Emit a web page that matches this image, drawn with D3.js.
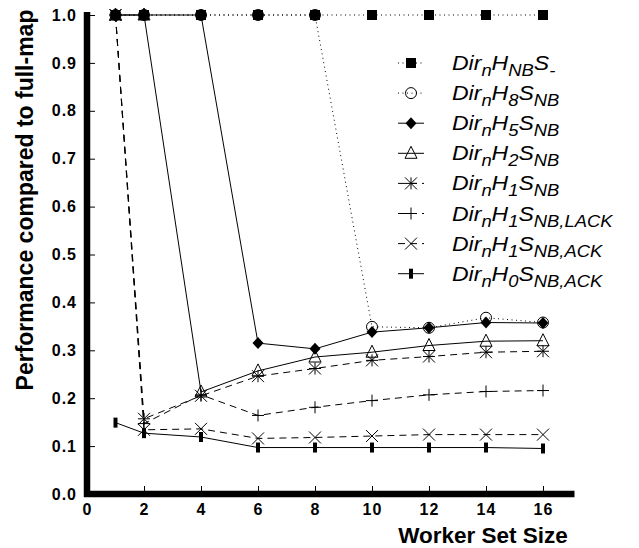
<!DOCTYPE html>
<html>
<head>
<meta charset="utf-8">
<script src="https://cdn.jsdelivr.net/npm/d3@7"></script>
<style>
  body { margin: 0; background: #fff; }
  svg { display: block; font-family: 'Liberation Sans', Arial, sans-serif; }
  .tituloeixo { font-weight: bold; font-size: 23px; fill: #000; }
  .linha { fill: none; stroke: #000; stroke-width: 1px; }
  .legenda text { font-style: italic; font-size: 20px; fill: #000; }
</style>
</head>
<body>
<svg id="grafico"></svg>
<script>
//Dados
var tamanhos = [1, 2, 4, 6, 8, 10, 12, 14, 16];

var hNB    = [1, 1, 1, 1, 1, 1, 1, 1, 1];
var h8     = [1, 1, 1, 1, 1, 0.349, 0.347, 0.368, 0.358];
var h5     = [1, 1, 1, 0.315, 0.303, 0.338, 0.347, 0.358, 0.357];
var h2     = [1, 1, 0.213, 0.257, 0.286, 0.296, 0.310, 0.319, 0.320];
var h1     = [1, 0.157, 0.205, 0.246, 0.262, 0.279, 0.287, 0.296, 0.298];
var h1Lack = [1, 0.147, 0.207, 0.164, 0.181, 0.195, 0.207, 0.214, 0.216];
var h1Ack  = [1, 0.134, 0.136, 0.116, 0.118, 0.121, 0.124, 0.124, 0.124];
var h0Ack  = [0.149, 0.127, 0.119, 0.097, 0.097, 0.097, 0.097, 0.097, 0.095];

var ticksX = [0, 2, 4, 6, 8, 10, 12, 14, 16];
var ticksY = [0, 0.1, 0.2, 0.3, 0.4, 0.5, 0.6, 0.7, 0.8, 0.9, 1.0];

//Subscritos das legendas (Dir_n H_x S_y)
var subscritosH = ['NB', '8', '5', '2', '1', '1', '1', '0'];
var subscritosS = ['-', 'NB', 'NB', 'NB', 'NB', 'NB,LACK', 'NB,ACK', 'NB,ACK'];

//Estilos de cada série
var series = [
    {valores: hNB,    marcador: 'quadrado',  traco: '1,3.5'},
    {valores: h8,     marcador: 'circulo',   traco: '1,3.5'},
    {valores: h5,     marcador: 'losango',   traco: null},
    {valores: h2,     marcador: 'triangulo', traco: null},
    {valores: h1,     marcador: 'asterisco', traco: '7,5'},
    {valores: h1Lack, marcador: 'mais',      traco: '7,5'},
    {valores: h1Ack,  marcador: 'xis',       traco: '7,5'},
    {valores: h0Ack,  marcador: 'barra',     traco: null}
];

var largura = 639, altura = 548;

var svg = d3.select('#grafico')
            .attr('width', largura)
            .attr('height', altura);

//Escalas
var x = d3.scaleLinear()
          .domain([0, 17])
          .range([87, 571.5]);
var y = d3.scaleLinear()
          .domain([0, 1])
          .range([494, 15]);

//Eixos (rótulos em negrito, linha do domínio substituída por barras)
var eixoX = d3.axisBottom(x)
              .tickValues(ticksX)
              .tickFormat(d3.format('d'))
              .tickSize(-8)
              .tickSizeOuter(0)
              .tickPadding(10);
var gx = svg.append('g')
            .attr('id', 'eixoX')
            .attr('transform', 'translate(0,' + y(0) + ')')
            .call(eixoX);

var eixoY = d3.axisLeft(y)
              .tickValues(ticksY)
              .tickFormat(d3.format('.1f'))
              .tickSize(-8)
              .tickSizeOuter(0)
              .tickPadding(10);
var gy = svg.append('g')
            .attr('id', 'eixoY')
            .attr('transform', 'translate(' + x(0) + ',0)')
            .call(eixoY);

[gx, gy].forEach(function(g) {
    g.attr('font-size', 16)
     .attr('font-weight', 'bold')
     .attr('font-family', 'Liberation Sans, Arial, sans-serif')
     .attr('letter-spacing', 1);
    g.select('.domain').attr('stroke', 'none');
    g.selectAll('.tick line').attr('stroke', '#000');
    g.selectAll('.tick text').attr('fill', '#000');
});

//Barras grossas dos eixos
svg.append('path')
   .attr('d', 'M' + x(0) + ',' + (y(1) - 3) + 'V' + y(0) + 'H' + (x(17) + 3))
   .attr('fill', 'none')
   .attr('stroke', '#000')
   .attr('stroke-width', 6.5)
   .attr('stroke-linejoin', 'miter')
   .attr('stroke-linecap', 'butt');

//Títulos dos eixos
svg.append('text')
   .classed('tituloeixo', true)
   .attr('transform', 'translate(33,200) rotate(-90)')
   .style('text-anchor', 'middle')
   .text('Performance compared to full-map');

svg.append('text')
   .classed('tituloeixo', true)
   .attr('x', 483)
   .attr('y', 543)
   .style('text-anchor', 'middle')
   .style('font-size', '22.5px')
   .text('Worker Set Size');

//Desenho de um marcador centrado em (0,0)
function desenheMarcador(g, tipo) {
    var t = 6;
    if (tipo == 'quadrado') {
        g.append('rect').attr('x', -5).attr('y', -5).attr('width', 10).attr('height', 10).attr('fill', '#000');
    } else if (tipo == 'circulo') {
        g.append('circle').attr('r', 5.5).attr('fill', 'none').attr('stroke', '#000');
    } else if (tipo == 'losango') {
        g.append('path').attr('d', 'M0,-6L5.5,0L0,6L-5.5,0Z').attr('fill', '#000');
    } else if (tipo == 'triangulo') {
        g.append('path').attr('d', 'M0,-7L6,5L-6,5Z').attr('fill', 'none').attr('stroke', '#000');
    } else if (tipo == 'barra') {
        g.append('rect').attr('x', -2).attr('y', -5).attr('width', 4).attr('height', 10).attr('fill', '#000');
    } else {
        var caminho = '';
        if (tipo == 'mais' || tipo == 'asterisco')
            caminho += 'M' + (-t) + ',0H' + t + 'M0,' + (-t) + 'V' + t;
        if (tipo == 'xis' || tipo == 'asterisco')
            caminho += 'M' + (-t) + ',' + (-t) + 'L' + t + ',' + t + 'M' + (-t) + ',' + t + 'L' + t + ',' + (-t);
        g.append('path').attr('d', caminho).attr('fill', 'none').attr('stroke', '#000');
    }
}

//Linhas das séries
var linha = d3.line()
              .x((d, i) => x(tamanhos[i]))
              .y(d => y(d));

svg.append('g')
   .selectAll('.linha')
   .data(series)
   .enter()
   .append('path')
   .classed('linha', true)
   .attr('d', d => linha(d.valores))
   .attr('stroke-dasharray', d => d.traco);

//Pontos das séries (desenhados de trás para frente)
series.slice().reverse().forEach(function(s) {
    s.valores.forEach(function(v, i) {
        var g = svg.append('g')
                   .attr('transform', 'translate(' + x(tamanhos[i]) + ',' + y(v) + ')');
        desenheMarcador(g, s.marcador);
    });
});

//Legenda
var legenda = svg.append('g').classed('legenda', true);
series.forEach(function(s, i) {
    var cy = 63 + i * 30.1;
    legenda.append('line')
           .attr('x1', 398).attr('x2', 424)
           .attr('y1', cy).attr('y2', cy)
           .attr('stroke', '#000')
           .attr('stroke-dasharray', s.traco);
    var g = legenda.append('g').attr('transform', 'translate(411,' + cy + ')');
    desenheMarcador(g, s.marcador);

    var texto = legenda.append('text')
                       .attr('transform', 'translate(452,' + (cy + 7) + ') scale(1.15,1)');
    texto.append('tspan').text('Dir');
    texto.append('tspan').attr('font-size', 16).attr('dy', 6).text('n');
    texto.append('tspan').attr('dy', -6).text('H');
    texto.append('tspan').attr('font-size', 16).attr('dy', 6).text(subscritosH[i]);
    texto.append('tspan').attr('dy', -6).text('S');
    texto.append('tspan').attr('font-size', 16).attr('dy', 6).text(subscritosS[i]);
});
</script>
</body>
</html>
